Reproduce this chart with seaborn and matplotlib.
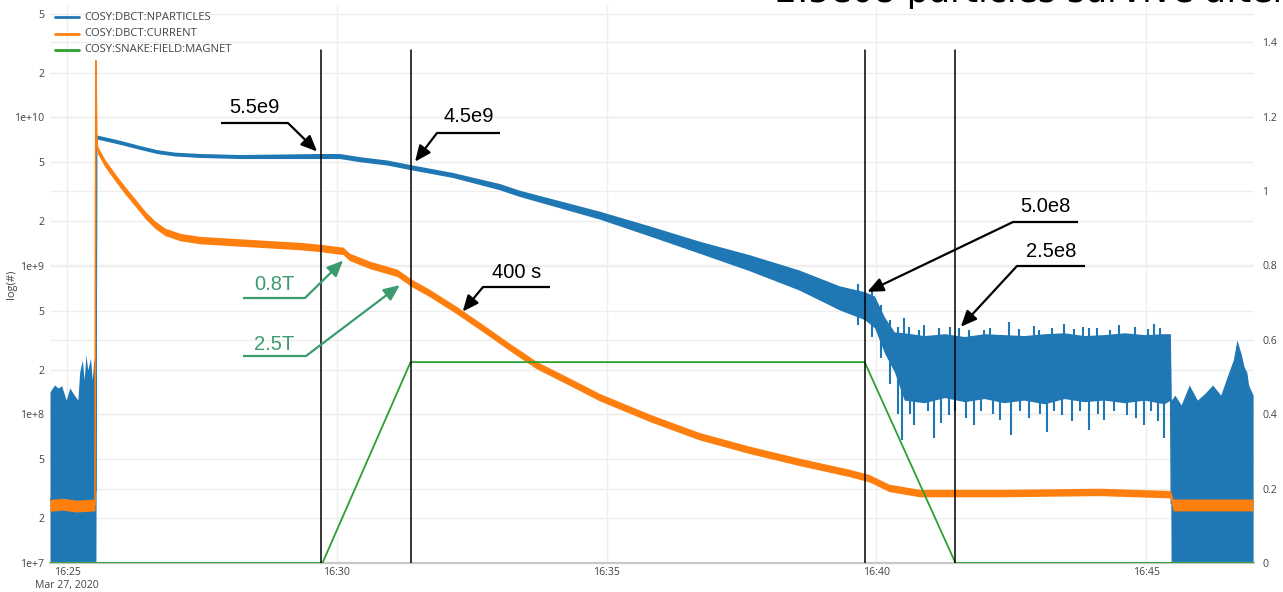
import matplotlib
matplotlib.use("Agg")
import matplotlib.pyplot as plt
import matplotlib.dates as mdates
import matplotlib.ticker as mticker
import matplotlib.transforms as mtransforms
from matplotlib.lines import Line2D
import pandas as pd
import seaborn as sns

DAY = "2020-03-27 "

# ---------------------------------------------------------------------------
# COSY:DBCT:NPARTICLES  (left, logarithmic axis) - lower / upper edge of the trace
npart_time = [
    "16:24:41", "16:24:46", "16:24:50", "16:24:54", "16:24:59", "16:25:03", "16:25:08",
    "16:25:12", "16:25:14", "16:25:17", "16:25:19", "16:25:21", "16:25:23", "16:25:26",
    "16:25:28", "16:25:30", "16:25:32",
    "16:25:33", "16:25:48", "16:26:02", "16:26:21", "16:26:40", "16:27:00", "16:27:28",
    "16:28:12", "16:29:41", "16:30:03", "16:30:26", "16:30:56", "16:31:23", "16:32:09",
    "16:33:01", "16:33:23", "16:34:52", "16:35:48", "16:36:43", "16:37:39", "16:38:34",
    "16:39:19", "16:39:47", "16:39:58", "16:40:09", "16:40:20",
    "16:40:31", "16:40:53", "16:41:16", "16:41:38", "16:42:00", "16:42:22", "16:42:44",
    "16:43:07", "16:43:29", "16:43:51", "16:44:13", "16:44:36", "16:44:58", "16:45:20",
    "16:45:27",
    "16:45:28", "16:45:32", "16:45:39", "16:45:48", "16:45:57", "16:46:06", "16:46:14",
    "16:46:23", "16:46:32", "16:46:37", "16:46:41", "16:46:46", "16:46:49", "16:46:52",
    "16:46:54", "16:46:59",
]
npart_lo = [
    5e6, 5e6, 5e6, 5e6, 5e6, 5e6, 5e6, 5e6, 5e6, 5e6, 5e6, 5e6, 5e6, 5e6, 5e6, 5e6, 5e6,
    7.16e9, 6.83e9, 6.52e9, 6.09e9, 5.72e9, 5.50e9, 5.38e9,
    5.29e9, 5.29e9, 5.29e9, 5.03e9, 4.78e9, 4.44e9, 3.94e9,
    3.26e9, 2.94e9, 2.07e9, 1.59e9, 1.22e9, 9.28e8, 6.89e8,
    5.06e8, 4.35e8, 3.83e8, 2.60e8, 1.94e8,
    1.25e8, 1.20e8, 1.30e8, 1.22e8, 1.28e8, 1.20e8, 1.25e8,
    1.18e8, 1.28e8, 1.22e8, 1.25e8, 1.20e8, 1.25e8, 1.18e8,
    1.25e8,
    5e6, 5e6, 5e6, 5e6, 5e6, 5e6, 5e6, 5e6, 5e6, 5e6, 5e6, 5e6, 5e6, 5e6, 5e6, 5e6,
]
npart_hi = [
    1.42e8, 1.58e8, 1.51e8, 1.56e8, 1.25e8, 1.51e8, 1.35e8, 1.25e8, 1.93e8, 2.33e8,
    1.71e8, 2.52e8, 1.99e8, 2.40e8, 1.71e8, 2.40e8, 1.85e8,
    7.62e9, 7.27e9, 6.94e9, 6.47e9, 6.07e9, 5.84e9, 5.72e9,
    5.63e9, 5.72e9, 5.72e9, 5.44e9, 5.17e9, 4.80e9, 4.26e9,
    3.59e9, 3.24e9, 2.34e9, 1.86e9, 1.47e9, 1.19e9, 9.40e8,
    7.35e8, 6.71e8, 6.27e8, 4.53e8, 3.60e8,
    3.55e8, 3.40e8, 3.50e8, 3.35e8, 3.50e8, 3.45e8, 3.40e8,
    3.50e8, 3.55e8, 3.40e8, 3.45e8, 3.55e8, 3.45e8, 3.50e8,
    3.50e8,
    1.25e8, 1.35e8, 1.16e8, 1.58e8, 1.25e8, 1.40e8, 1.58e8, 1.35e8, 1.93e8, 2.33e8,
    3.18e8, 2.52e8, 2.09e8, 1.93e8, 1.58e8, 1.35e8,
]

# single noise excursions of NPARTICLES around and after the second ramp
spike_time = [
    "16:39:40", "16:39:55", "16:40:05", "16:40:15", "16:40:24",
    "16:40:29", "16:40:31", "16:40:36", "16:40:37", "16:40:42", "16:40:47", "16:40:53",
    "16:40:58", "16:41:04", "16:41:10", "16:41:12", "16:41:21", "16:41:22", "16:41:27",
    "16:41:32", "16:41:40", "16:41:43", "16:41:49", "16:41:56", "16:42:00", "16:42:06",
    "16:42:10", "16:42:17", "16:42:28", "16:42:30", "16:42:39", "16:42:40", "16:42:50",
    "16:42:55", "16:43:01", "16:43:02", "16:43:10", "16:43:15", "16:43:18", "16:43:26",
    "16:43:29", "16:43:38", "16:43:40", "16:43:47", "16:43:50", "16:43:57", "16:44:05",
    "16:44:06", "16:44:13", "16:44:20", "16:44:24", "16:44:30", "16:44:39", "16:44:48",
    "16:44:49", "16:44:58", "16:45:02", "16:45:05", "16:45:09", "16:45:13", "16:45:15",
    "16:45:20",
]
spike_lo = [
    4.0e8, 3.3e8, 2.4e8, 1.6e8, 1.0e8,
    6.74e7, 2.5e8, 2.5e8, 1.0e8, 8.5e7, 2.5e8, 2.5e8,
    1.05e8, 6.95e7, 2.5e8, 8.8e7, 9.92e7, 2.5e8, 1.05e8,
    2.5e8, 9.5e7, 2.5e8, 8.5e7, 1.05e8, 2.5e8, 2.5e8,
    1.0e8, 9.18e7, 2.5e8, 7.28e7, 2.5e8, 1.05e8, 9.47e7,
    2.5e8, 2.5e8, 1.0e8, 7.62e7, 2.5e8, 1.05e8, 9.92e7,
    2.5e8, 9.0e7, 2.5e8, 1.05e8, 2.5e8, 7.87e7, 2.5e8,
    1.0e8, 9.18e7, 2.5e8, 1.05e8, 2.5e8, 9.92e7, 2.5e8,
    9.5e7, 8.5e7, 2.5e8, 1.05e8, 2.5e8, 9.0e7, 2.5e8,
    6.95e7,
]
spike_hi = [
    7.6e8, 6.8e8, 5.5e8, 4.3e8, 3.9e8,
    2.0e8, 4.47e8, 3.9e8, 2.0e8, 2.0e8, 3.7e8, 4.0e8,
    2.0e8, 2.0e8, 3.8e8, 2.0e8, 2.0e8, 3.9e8, 2.0e8,
    3.82e8, 2.0e8, 3.7e8, 2.0e8, 2.0e8, 3.71e8, 3.85e8,
    2.0e8, 2.0e8, 4.2e8, 2.0e8, 3.75e8, 2.0e8, 2.0e8,
    3.95e8, 3.71e8, 2.0e8, 2.0e8, 3.8e8, 2.0e8, 2.0e8,
    4.07e8, 2.0e8, 3.75e8, 2.0e8, 3.9e8, 3.82e8, 3.8e8,
    2.0e8, 2.0e8, 3.7e8, 2.0e8, 4.0e8, 2.0e8, 3.9e8,
    2.0e8, 2.0e8, 3.75e8, 2.0e8, 4.07e8, 2.0e8, 3.85e8,
    2.0e8,
]

# COSY:DBCT:CURRENT  (right axis) - centre of the trace and its noise half-width
current_time = [
    "16:24:41", "16:24:55", "16:25:10", "16:25:31", "16:25:32", "16:25:33", "16:25:34",
    "16:25:42", "16:25:53", "16:26:04", "16:26:16", "16:26:27", "16:26:38", "16:26:49",
    "16:27:06", "16:27:28", "16:28:23", "16:29:19", "16:29:41", "16:30:07",
    "16:30:14", "16:30:37", "16:31:07", "16:31:23", "16:31:43", "16:32:13", "16:32:42",
    "16:33:12", "16:33:42", "16:34:19", "16:34:52", "16:35:48", "16:36:43", "16:37:39",
    "16:38:34", "16:39:30", "16:39:52", "16:40:14", "16:40:48", "16:42:18", "16:44:08",
    "16:45:27", "16:45:30", "16:46:59",
]
current_val = [
    0.155, 0.158, 0.153, 0.156, 1.35, 1.14, 1.110,
    1.075, 1.038, 1.003, 0.968, 0.935, 0.909, 0.890,
    0.876, 0.868, 0.860, 0.852, 0.847, 0.839,
    0.823, 0.801, 0.780, 0.753, 0.726, 0.680, 0.632,
    0.581, 0.532, 0.487, 0.446, 0.390, 0.341, 0.304,
    0.272, 0.242, 0.228, 0.202, 0.188, 0.188, 0.191,
    0.185, 0.156, 0.156,
]
current_noise = [
    0.016, 0.016, 0.016, 0.016, 0.0, 0.008, 0.010,
    0.010, 0.010, 0.010, 0.010, 0.010, 0.010, 0.010,
    0.010, 0.010, 0.010, 0.010, 0.010, 0.010,
    0.010, 0.010, 0.010, 0.010, 0.010, 0.010, 0.010,
    0.010, 0.010, 0.010, 0.010, 0.010, 0.010, 0.010,
    0.010, 0.010, 0.010, 0.010, 0.010, 0.010, 0.010,
    0.010, 0.016, 0.016,
]

# COSY:SNAKE:FIELD:MAGNET  (right axis)
magnet_time = ["16:24:41", "16:29:44", "16:31:22", "16:39:47", "16:41:28", "16:47:00"]
magnet_val = [0.0, 0.0, 0.54, 0.54, 0.0, 0.0]

# start / end of the two field ramps
marker_times = ["16:29:42", "16:31:23", "16:39:47", "16:41:28"]

left_ticks = [1e7, 2e7, 5e7, 1e8, 2e8, 5e8, 1e9, 2e9, 5e9, 1e10, 2e10, 5e10]
left_labels = ["1e+7", "2", "5", "1e+8", "2", "5", "1e+9", "2", "5", "1e+10", "2", "5"]
right_ticks = [0, 0.2, 0.4, 0.6, 0.8, 1.0, 1.2, 1.4]
right_labels = ["0", "0.2", "0.4", "0.6", "0.8", "1", "1.2", "1.4"]

# callouts: text, time and value they point at, axis of that value
callout_text = ["5.5e9", "4.5e9", "5.0e8", "2.5e8", "400 s", "0.8T", "2.5T"]
callout_time = ["16:29:38", "16:31:27", "16:39:50", "16:41:34", "16:32:20", "16:30:07", "16:31:10"]
callout_value = [5.9e9, 5.04e9, 6.7e8, 3.9e8, 0.676, 0.813, 0.747]
callout_axis = ["left", "left", "left", "left", "right", "right", "right"]

# ---------------------------------------------------------------------------
BLUE, ORANGE, GREEN = "#1f77b4", "#ff7f0e", "#2ca02c"
CALLOUT_GREEN = "#3a9b6e"
TICK_GREY = "#444444"
GRID = "#eeeeee"

sns.set_theme(style="white")
plt.rcParams["font.family"] = ["Open Sans", "DejaVu Sans"]

W, H = 1283, 592
fig = plt.figure(figsize=(W / 100, H / 100), dpi=100)
L, R, T, B = 50, 1254, 5, 563
ax = fig.add_axes([L / W, 1 - B / H, (R - L) / W, (B - T) / H])
ax2 = ax.twinx()


def ts(lst):
    return pd.to_datetime([DAY + t for t in lst])


npart = pd.DataFrame({"time": ts(npart_time), "lo": npart_lo, "hi": npart_hi})
npart["mid"] = (npart["lo"] * npart["hi"]) ** 0.5
spikes = pd.DataFrame({"time": ts(spike_time), "lo": spike_lo, "hi": spike_hi})
current = pd.DataFrame({"time": ts(current_time), "val": current_val, "noise": current_noise})
magnet = pd.DataFrame({"time": ts(magnet_time), "val": magnet_val})

# --- left axis: particle number
ax.set_yscale("log")
ax.fill_between(npart["time"], npart["lo"], npart["hi"], color=BLUE, lw=0, zorder=2)
ax.vlines(spikes["time"], spikes["lo"], spikes["hi"], color=BLUE, lw=1.5, zorder=2)
sns.lineplot(data=npart, x="time", y="mid", ax=ax, color=BLUE, lw=1.0,
             estimator=None, sort=False, zorder=2)
ax.set_ylim(1e7, 5.72e10)
ax.set_yticks(left_ticks)
ax.set_yticklabels(left_labels)
ax.yaxis.set_minor_locator(mticker.NullLocator())
ax.set_ylabel("")
ax.set_xlabel("")

# --- right axis: beam current and magnet field
ax2.fill_between(current["time"], current["val"] - current["noise"],
                 current["val"] + current["noise"], color=ORANGE, lw=0, zorder=2)
sns.lineplot(data=current, x="time", y="val", ax=ax2, color=ORANGE, lw=1.2,
             estimator=None, sort=False, zorder=2)
sns.lineplot(data=magnet, x="time", y="val", ax=ax2, color=GREEN, lw=1.3,
             estimator=None, sort=False, zorder=3)
ax2.set_ylim(0, 1.5)
ax2.set_yticks(right_ticks)
ax2.set_yticklabels(right_labels)
ax2.set_ylabel("")
ax2.set_xlabel("")

x0 = pd.Timestamp(DAY + "16:24:41")
x1 = pd.Timestamp(DAY + "16:47:00")
ax.set_xlim(x0, x1)

# x axis: 5-minute ticks, the first one carrying the date
ax.xaxis.set_major_locator(mdates.MinuteLocator(byminute=range(0, 60, 5)))


def fmt_time(v, pos):
    d = mdates.num2date(v)
    s = d.strftime("%H:%M")
    if d.minute == 25 and d.hour == 16:
        s += "\nMar 27, 2020"
    return s


ax.xaxis.set_major_formatter(mticker.FuncFormatter(fmt_time))
ax.tick_params(axis="x", length=0, pad=3, labelsize=7.6, labelcolor=TICK_GREY)
ax.tick_params(axis="y", length=0, pad=4, labelsize=7.6, labelcolor=TICK_GREY)
ax2.tick_params(axis="y", length=0, pad=6, labelsize=7.6, labelcolor=TICK_GREY)
ax2.tick_params(axis="x", bottom=False, labelbottom=False)

# grid: both y axes' lines drawn behind the traces
ax.set_axisbelow(True)
ax.grid(axis="both", which="major", color=GRID, lw=1)
ax2.grid(False)
right_grid = mtransforms.blended_transform_factory(ax.transAxes, ax2.transData)
ax.hlines(right_ticks[1:], 0, 1, transform=right_grid, color=GRID, lw=1, zorder=0.5)

for a in (ax, ax2):
    for s in ("top", "left", "right"):
        a.spines[s].set_visible(False)
ax.spines["bottom"].set_color("#c8c8c8")
ax.spines["bottom"].set_linewidth(1.6)
ax2.spines["bottom"].set_visible(False)

# y-axis title
fig.text(12 / W, 1 - 284 / H, "log(#)", rotation=90, ha="center", va="center",
         fontsize=8, color=TICK_GREY)

# vertical markers at the ramp edges
for t in marker_times:
    ax2.axvline(pd.Timestamp(DAY + t), ymin=0, ymax=0.92, color="black", lw=1.1, zorder=6)

# callouts: label over a short rule, arrow from the rule's end to the point
rule_x0 = [221, 437, 1013, 1017, 483, 243, 243]
rule_x1 = [288, 500, 1078, 1085, 550, 305, 306]
rule_y = [123, 133, 222, 266, 287, 298, 356]
rule_side = [1, 0, 0, 0, 0, 1, 1]
text_y = [113.5, 121.7, 211.7, 256.7, 278.3, 290, 350]


def fx(px):
    return (px - L) / (R - L)


def fy(py):
    return (B - py) / (B - T)


for i, label in enumerate(callout_text):
    c = "black" if i < 5 else CALLOUT_GREEN
    xa, xb, yy = fx(rule_x0[i]), fx(rule_x1[i]), fy(rule_y[i])
    ax2.plot([xa, xb], [yy, yy], transform=ax2.transAxes, color=c, lw=1.6,
             clip_on=False, zorder=7, solid_capstyle="butt")
    tip = (mdates.date2num(pd.Timestamp(DAY + callout_time[i])), callout_value[i])
    coords = ax.transData if callout_axis[i] == "left" else ax2.transData
    start = (xb, yy) if rule_side[i] else (xa, yy)
    ax2.annotate("", xy=tip, xycoords=coords, xytext=start, textcoords="axes fraction",
                 arrowprops=dict(arrowstyle="-|>,head_length=0.8,head_width=0.35",
                                 color=c, lw=1.6, shrinkA=0, shrinkB=0),
                 zorder=7, annotation_clip=False)
    ax2.text((xa + xb) / 2, fy(text_y[i]), label, transform=ax2.transAxes,
             ha="center", va="baseline", fontsize=14.5, color=c,
             family=["Liberation Sans", "DejaVu Sans"], zorder=7)

# legend in the top-left corner
legend_rows = [("COSY:DBCT:NPARTICLES", BLUE, 17), ("COSY:DBCT:CURRENT", ORANGE, 34),
               ("COSY:SNAKE:FIELD:MAGNET", GREEN, 50)]
for name, col, py in legend_rows:
    fig.add_artist(Line2D([55 / W, 79 / W], [1 - py / H, 1 - py / H], color=col, lw=2))
    fig.text(84 / W, 1 - py / H, name, va="center", ha="left", fontsize=8.1, color=TICK_GREY)

# headline running off the top edge
fig.text(775 / W, 1 - 2 / H, "2.5e08 particles survive after", fontsize=25,
         family=["DejaVu Sans"], va="baseline", ha="left", color="black")

fig.savefig("out.png", dpi=100)
